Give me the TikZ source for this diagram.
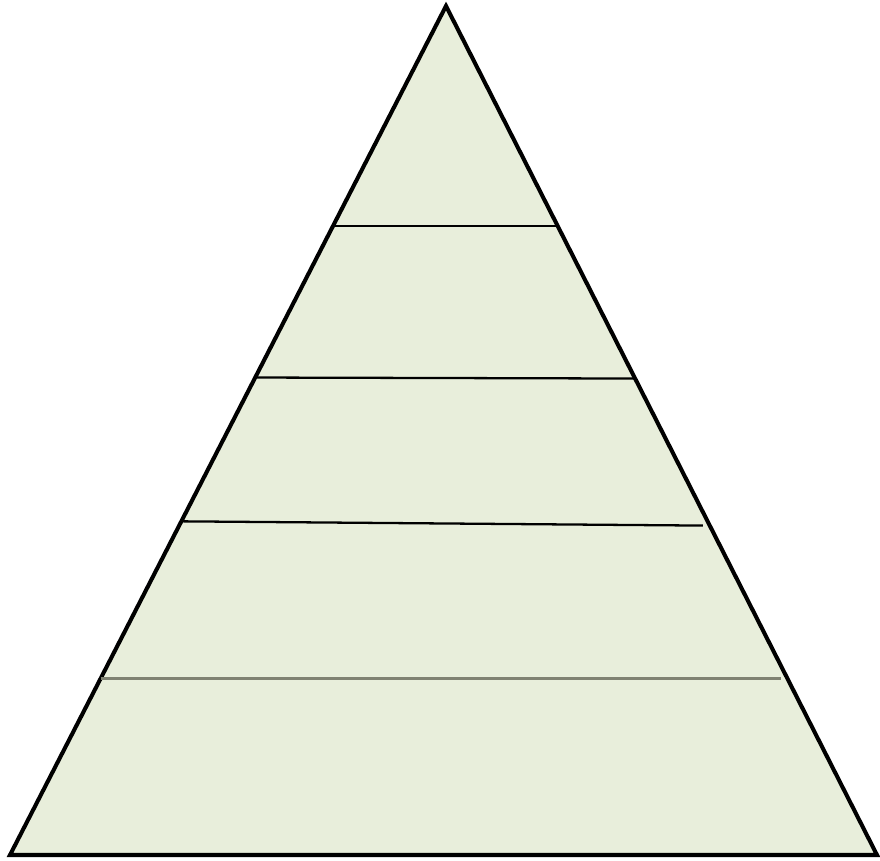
\documentclass[tikz,border=0pt]{standalone}
\usetikzlibrary{calc}
\definecolor{pyrfill}{HTML}{E8EEDB}
\definecolor{pyrgrey}{HTML}{7F8272}
\tikzset{
  outline/.style={draw=black, line width=2.3pt, line join=miter, fill=pyrfill},
  tier/.style={draw=black, line width=1.3pt},
  tierg/.style={draw=pyrgrey, line width=1.3pt},
}
\begin{document}
\begin{tikzpicture}[x=0.02cm, y=-0.02cm]
  \useasboundingbox (0,0) rectangle (880,861);
  \coordinate (apex) at (446,6);
  \coordinate (bl) at (10,855);
  \coordinate (br) at (877,855);
  % pyramid body
  \draw[outline] (apex) -- (bl) -- (br) -- cycle;
  % tier dividers
  \draw[tier] ($(apex)!0.259!(bl)$) -- ($(apex)!0.259!(br)$);
  \draw[tier] ($(apex)!0.4376!(bl)$) -- ($(apex)!0.4388!(br)$);
  \draw[tier] ($(apex)!0.607!(bl)$) -- ($(apex)!0.612!(br)+(-7,0)$);
  \draw[tierg] ($(apex)!0.792!(bl)$) -- ($(apex)!0.792!(br)+(-6,0)$);
\end{tikzpicture}
\end{document}
